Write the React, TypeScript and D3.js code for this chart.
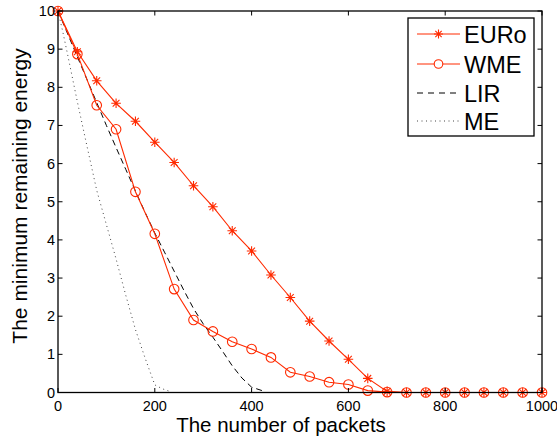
import * as d3 from 'd3';
import React, { useEffect, useRef } from 'react';

// packets sampled every 40 for the marker series
const packets = d3.range(0, 1001, 40);
const euro = [
    10, 8.93, 8.17, 7.58, 7.11, 6.56, 6.03, 5.42, 4.87, 4.24, 3.71, 3.08, 2.49,
    1.87, 1.35, 0.87, 0.37, 0.03, 0, 0, 0, 0, 0, 0, 0, 0,
];
const wme = [
    10, 8.87, 7.53, 6.9, 5.26, 4.16, 2.71, 1.9, 1.6, 1.33, 1.14, 0.92, 0.53,
    0.42, 0.27, 0.21, 0.05, 0.01, 0, 0, 0, 0, 0, 0, 0, 0,
];
// LIR and ME curves
const lirX = [
    0, 20, 40, 60, 80, 100, 120, 140, 160, 180, 200, 220, 240, 260, 280, 300,
    320, 340, 360, 380, 400, 424,
];
const lir = [
    10, 9.4, 8.8, 8.2, 7.6, 7.0, 6.42, 5.85, 5.28, 4.72, 4.18, 3.68, 3.18,
    2.68, 2.2, 1.8, 1.45, 1.08, 0.7, 0.38, 0.14, 0.04,
];
const meX = [0, 10, 20, 40, 60, 80, 100, 120, 140, 160, 180, 200, 215, 231];
const me = [
    10, 9.45, 8.85, 7.62, 6.45, 5.3, 4.4, 3.5, 2.55, 1.65, 0.9, 0.2, 0.1, 0.03,
];

const xTicks = [0, 200, 400, 600, 800, 1000];
const yTicks = d3.range(0, 11, 1);
const legendNames = ['EURo', 'WME', 'LIR', 'ME'];

const width = 557;
const height = 439;
const marginLeft = 58;
const marginRight = 15;
const marginTop = 11;
const marginBottom = 46.5;
const red = '#ff2a00';
const font = '"Liberation Sans", Arial, sans-serif';

const App = () => {
    const svgRef = useRef<SVGSVGElement | null>(null);

    useEffect(() => {
        const svg = d3.select(svgRef.current);
        svg.selectAll('*').remove();

        const x = d3
            .scaleLinear()
            .domain([0, 1000])
            .range([marginLeft, width - marginRight]);
        const y = d3
            .scaleLinear()
            .domain([0, 10])
            .range([height - marginBottom, marginTop]);

        svg.append('rect')
            .attr('width', width)
            .attr('height', height)
            .attr('fill', '#fff');

        const line = d3
            .line<[number, number]>()
            .x((d) => x(d[0]))
            .y((d) => y(d[1]));

        // LIR dashed
        svg.append('path')
            .attr('d', line(lirX.map((v, i) => [v, lir[i]])))
            .attr('fill', 'none')
            .attr('stroke', '#000')
            .attr('stroke-width', 1)
            .attr('stroke-dasharray', '6,4');

        // ME dotted
        svg.append('path')
            .attr('d', line(meX.map((v, i) => [v, me[i]])))
            .attr('fill', 'none')
            .attr('stroke', '#444')
            .attr('stroke-width', 1)
            .attr('stroke-dasharray', '1,3.5');

        const star = (g: any, cx: number, cy: number, r: number) => {
            const s = r * 0.7071;
            g.append('path')
                .attr(
                    'd',
                    `M${cx - r},${cy}H${cx + r}M${cx},${cy - r}V${cy + r}` +
                        `M${cx - s},${cy - s}L${cx + s},${cy + s}M${cx - s},${cy + s}L${cx + s},${cy - s}`,
                )
                .attr('stroke', red)
                .attr('stroke-width', 1.1)
                .attr('fill', 'none');
        };

        // WME
        const wmeG = svg.append('g');
        wmeG.append('path')
            .attr('d', line(packets.map((v, i) => [v, wme[i]])))
            .attr('fill', 'none')
            .attr('stroke', red)
            .attr('stroke-width', 1.1);
        packets.forEach((p, i) => {
            wmeG.append('circle')
                .attr('cx', x(p))
                .attr('cy', y(wme[i]))
                .attr('r', 4.8)
                .attr('fill', 'none')
                .attr('stroke', red)
                .attr('stroke-width', 1.1);
        });

        // EURo
        const euroG = svg.append('g');
        euroG.append('path')
            .attr('d', line(packets.map((v, i) => [v, euro[i]])))
            .attr('fill', 'none')
            .attr('stroke', red)
            .attr('stroke-width', 1.1);
        packets.forEach((p, i) => star(euroG, x(p), y(euro[i]), 4.8));

        // box + ticks
        const x0 = x(0);
        const x1 = x(1000);
        const y0 = y(0);
        const y1 = y(10);
        const axes = svg.append('g').attr('stroke', '#000');
        axes.append('rect')
            .attr('x', x0)
            .attr('y', y1)
            .attr('width', x1 - x0)
            .attr('height', y0 - y1)
            .attr('fill', 'none')
            .attr('stroke-width', 1.3);
        xTicks.forEach((t) => {
            axes.append('line')
                .attr('x1', x(t))
                .attr('x2', x(t))
                .attr('y1', y0)
                .attr('y2', y0 - 4.5);
            axes.append('line')
                .attr('x1', x(t))
                .attr('x2', x(t))
                .attr('y1', y1)
                .attr('y2', y1 + 4.5);
        });
        yTicks.forEach((t) => {
            axes.append('line')
                .attr('x1', x0)
                .attr('x2', x0 + 4.5)
                .attr('y1', y(t))
                .attr('y2', y(t));
            axes.append('line')
                .attr('x1', x1)
                .attr('x2', x1 - 4.5)
                .attr('y1', y(t))
                .attr('y2', y(t));
        });

        const labels = svg
            .append('g')
            .attr('font-family', font)
            .attr('fill', '#000');
        xTicks.forEach((t) => {
            labels
                .append('text')
                .attr('x', x(t))
                .attr('y', y0 + 18)
                .attr('text-anchor', 'middle')
                .attr('font-size', 14.5)
                .text(t);
        });
        yTicks.forEach((t) => {
            labels
                .append('text')
                .attr('x', x0 - 3)
                .attr('y', y(t) + 5)
                .attr('text-anchor', 'end')
                .attr('font-size', 14.5)
                .text(t);
        });
        labels
            .append('text')
            .attr('x', 281)
            .attr('y', 432)
            .attr('text-anchor', 'middle')
            .attr('font-size', 20.5)
            .text('The number of packets');
        labels
            .append('text')
            .attr('transform', `translate(27,196) rotate(-90)`)
            .attr('text-anchor', 'middle')
            .attr('font-size', 21)
            .text('The minimum remaining energy');

        // legend
        const lg = svg.append('g');
        lg.append('rect')
            .attr('x', 408)
            .attr('y', 18)
            .attr('width', 126)
            .attr('height', 118)
            .attr('fill', '#fff')
            .attr('stroke', '#000')
            .attr('stroke-width', 1.3);
        const rowY = [34, 64, 93, 121];
        legendNames.forEach((name, i) => {
            const ly = rowY[i];
            const l = lg
                .append('line')
                .attr('x1', 417)
                .attr('x2', 460)
                .attr('y1', ly)
                .attr('y2', ly)
                .attr('stroke-width', 1);
            if (i < 2) l.attr('stroke', red);
            if (i === 2) l.attr('stroke', '#000').attr('stroke-dasharray', '6,5');
            if (i === 3)
                l.attr('stroke', '#444').attr('stroke-dasharray', '1,3.5');
            if (i === 0) star(lg, 438.5, ly, 4.5);
            if (i === 1)
                lg.append('circle')
                    .attr('cx', 438.5)
                    .attr('cy', ly)
                    .attr('r', 4.3)
                    .attr('fill', '#fff')
                    .attr('stroke', red)
                    .attr('stroke-width', 1.1);
            lg.append('text')
                .attr('x', 464)
                .attr('y', ly + 8.5)
                .attr('font-family', font)
                .attr('font-size', 23.5)
                .text(name);
        });
    }, []);

    return (
        <svg
            ref={svgRef}
            width={width}
            height={height}
            style={{ position: 'absolute', left: 0, top: 0 }}
        />
    );
};

export default App;
